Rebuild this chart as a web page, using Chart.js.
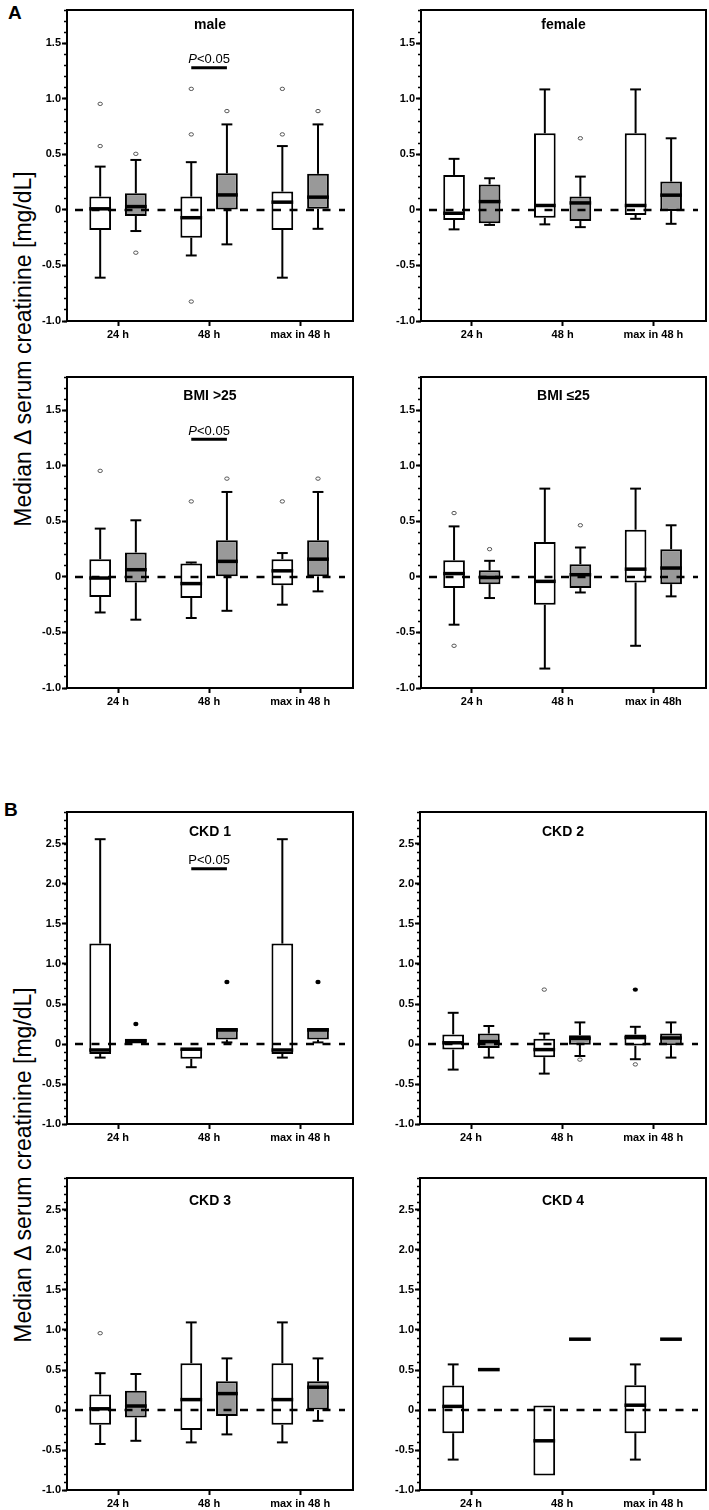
<!DOCTYPE html>
<html>
<head>
<meta charset="utf-8">
<script src="https://cdn.jsdelivr.net/npm/chart.js@4.4.1/dist/chart.umd.min.js"></script>
<style>
  html, body { margin: 0; padding: 0; background: #fff; }
  body { width: 709px; height: 1510px; position: relative; overflow: hidden; font-family: 'Liberation Sans', Arial, sans-serif; }
  canvas { position: absolute; }
  .tag { position: absolute; font-weight: bold; font-size: 19px; line-height: 19px; }
  .ytitle { position: absolute; width: 420px; text-align: center; font-size: 23px; line-height: 23px;
            white-space: nowrap; transform: translate(-50%, -50%) rotate(-90deg); }
</style>
</head>
<body>
<div class="tag" style="left:8px;top:3px">A</div>
<div class="tag" style="left:4px;top:800px">B</div>
<div class="ytitle" style="left:23px;top:349px">Median &Delta; serum creatinine [mg/dL]</div>
<div class="ytitle" style="left:23px;top:1165px">Median &Delta; serum creatinine [mg/dL]</div>
<script>
Chart.defaults.font.family = "'Liberation Sans', Arial, sans-serif";
Chart.defaults.color = '#000';

// x categories
var categories = ['24 h', '48 h', 'max in 48 h'];
var categoriesBmiLow = ['24 h', '48 h', 'max in 48h'];

// y tick ranges
var yMaxA = 1.8;
var yMaxB = 2.9;

// every row: [lower whisker, Q1, median, Q3, upper whisker] for 24 h, 48 h, max in 48 h
var maleWhite = [[-0.61, -0.18, 0.01, 0.12, 0.39], [-0.41, -0.25, -0.07, 0.12, 0.43], [-0.61, -0.18, 0.07, 0.165, 0.575]];
var maleGrey = [[-0.19, -0.055, 0.03, 0.15, 0.45], [-0.31, 0.0, 0.135, 0.33, 0.77], [-0.17, 0.01, 0.115, 0.325, 0.77]];
var maleWhiteOut = [[0.575, 0.955], [1.09, 0.68, -0.825], [1.09, 0.68]];
var maleGreyOut = [[0.505, -0.385], [0.89], [0.89]];

var femaleWhite = [[-0.175, -0.09, -0.03, 0.315, 0.46], [-0.13, -0.07, 0.04, 0.69, 1.085], [-0.08, -0.045, 0.04, 0.69, 1.085]];
var femaleGrey = [[-0.135, -0.12, 0.075, 0.23, 0.285], [-0.155, -0.1, 0.063, 0.12, 0.3], [-0.125, -0.01, 0.133, 0.255, 0.645]];
var femaleWhiteOut = [[], [], []];
var femaleGreyOut = [[], [0.645], []];

var bmiHighWhite = [[-0.32, -0.18, -0.01, 0.16, 0.435], [-0.37, -0.19, -0.06, 0.12, 0.13], [-0.25, -0.075, 0.055, 0.16, 0.215]];
var bmiHighGrey = [[-0.385, -0.05, 0.065, 0.22, 0.51], [-0.305, 0.005, 0.14, 0.33, 0.765], [-0.13, 0.005, 0.16, 0.33, 0.765]];
var bmiHighWhiteOut = [[0.955], [0.68], [0.68]];
var bmiHighGreyOut = [[], [0.885], [0.885]];

var bmiLowWhite = [[-0.43, -0.1, 0.03, 0.15, 0.455], [-0.825, -0.25, -0.04, 0.315, 0.795], [-0.62, -0.05, 0.07, 0.425, 0.795]];
var bmiLowGrey = [[-0.19, -0.065, -0.005, 0.06, 0.145], [-0.14, -0.1, 0.02, 0.115, 0.265], [-0.175, -0.065, 0.08, 0.25, 0.465]];
var bmiLowWhiteOut = [[0.575, -0.62], [], []];
var bmiLowGreyOut = [[0.25], [0.465], []];

var ckd1White = [[-0.17, -0.125, -0.075, 1.255, 2.56], [-0.29, -0.185, -0.065, -0.06, -0.06], [-0.17, -0.125, -0.075, 1.255, 2.56]];
var ckd1Grey = [[0.005, 0.005, 0.04, 0.065, 0.065], [0.02, 0.055, 0.175, 0.2, 0.2], [0.02, 0.055, 0.175, 0.2, 0.2]];
var ckd1WhiteOut = [[], [], []];
var ckd1GreyDots = [[0.25], [0.775], [0.775]];

var ckd2White = [[-0.32, -0.07, 0.015, 0.12, 0.39], [-0.37, -0.165, -0.07, 0.065, 0.13], [-0.19, -0.02, 0.08, 0.12, 0.215]];
var ckd2Grey = [[-0.17, -0.05, 0.03, 0.13, 0.225], [-0.15, -0.01, 0.07, 0.11, 0.27], [-0.17, -0.015, 0.075, 0.13, 0.27]];
var ckd2WhiteOut = [[], [0.68], [-0.255]];
var ckd2WhiteDots = [[], [], [0.68]];
var ckd2GreyOut = [[], [-0.195], []];

var ckd3White = [[-0.425, -0.185, 0.015, 0.195, 0.46], [-0.405, -0.25, 0.13, 0.585, 1.095], [-0.405, -0.185, 0.13, 0.585, 1.095]];
var ckd3Grey = [[-0.385, -0.095, 0.05, 0.24, 0.45], [-0.305, -0.075, 0.205, 0.36, 0.645], [-0.135, 0.0, 0.285, 0.36, 0.645]];
var ckd3WhiteOut = [[0.96], [], []];

var ckd4White = [[-0.62, -0.29, 0.045, 0.305, 0.57], [-0.82, -0.82, -0.385, 0.055, 0.055], [-0.62, -0.29, 0.06, 0.31, 0.57]];
var ckd4Grey = [[0.505, 0.505, 0.505, 0.505, 0.505], [0.885, 0.885, 0.885, 0.885, 0.885], [0.885, 0.885, 0.885, 0.885, 0.885]];

var none = [[], [], []];

// panel frames: [left, top, right, bottom] of the plot box on the page
var panels = [
  { title: 'male', labels: categories, white: maleWhite, grey: maleGrey, wOut: maleWhiteOut, gOut: maleGreyOut,
    wDots: none, gDots: none, yMax: yMaxA, frame: [67, 10, 353, 321], titleOff: 15, pBar: { value: 1.28, italic: true } },
  { title: 'female', labels: categories, white: femaleWhite, grey: femaleGrey, wOut: femaleWhiteOut, gOut: femaleGreyOut,
    wDots: none, gDots: none, yMax: yMaxA, frame: [421, 10, 706, 321], titleOff: 15 },
  { title: 'BMI >25', labels: categories, white: bmiHighWhite, grey: bmiHighGrey, wOut: bmiHighWhiteOut, gOut: bmiHighGreyOut,
    wDots: none, gDots: none, yMax: yMaxA, frame: [67, 377, 353, 688], titleOff: 19, pBar: { value: 1.24, italic: true } },
  { title: 'BMI \u226425', labels: categoriesBmiLow, white: bmiLowWhite, grey: bmiLowGrey, wOut: bmiLowWhiteOut, gOut: bmiLowGreyOut,
    wDots: none, gDots: none, yMax: yMaxA, frame: [421, 377, 706, 688], titleOff: 19 },
  { title: 'CKD 1', labels: categories, white: ckd1White, grey: ckd1Grey, wOut: ckd1WhiteOut, gOut: none,
    wDots: none, gDots: ckd1GreyDots, yMax: yMaxB, frame: [67, 812, 353, 1124], titleOff: 20, pBar: { value: 2.19, italic: false } },
  { title: 'CKD 2', labels: categories, white: ckd2White, grey: ckd2Grey, wOut: ckd2WhiteOut, gOut: ckd2GreyOut,
    wDots: ckd2WhiteDots, gDots: none, yMax: yMaxB, frame: [420, 812, 706, 1124], titleOff: 20 },
  { title: 'CKD 3', labels: categories, white: ckd3White, grey: ckd3Grey, wOut: ckd3WhiteOut, gOut: none,
    wDots: none, gDots: none, yMax: yMaxB, frame: [67, 1178, 353, 1490], titleOff: 23 },
  { title: 'CKD 4', labels: categories, white: ckd4White, grey: ckd4Grey, wOut: none, gOut: none,
    wDots: none, gDots: none, yMax: yMaxB, frame: [420, 1178, 706, 1490], titleOff: 23 }
];

function line(ctx, x1, y1, x2, y2) {
  ctx.beginPath();
  ctx.moveTo(x1, y1);
  ctx.lineTo(x2, y2);
  ctx.stroke();
}

// whiskers, medians, outliers, zero line, frame and labels inside the box
var boxExtras = {
  id: 'boxExtras',
  afterDatasetsDraw: function (chart, args, o) {
    var ctx = chart.ctx, ys = chart.scales.y, a = chart.chartArea;
    ctx.save();
    [0, 1].forEach(function (d) {
      var meta = chart.getDatasetMeta(d);
      meta.data.forEach(function (bar, i) {
        var s = o.stats[d][i];
        var x = bar.x, w = bar.width;
        var pLo = ys.getPixelForValue(s[0]), pQ1 = ys.getPixelForValue(s[1]);
        var pMed = ys.getPixelForValue(s[2]), pQ3 = ys.getPixelForValue(s[3]);
        var pHi = ys.getPixelForValue(s[4]);
        ctx.strokeStyle = '#000';
        ctx.lineWidth = 2;
        if (s[4] > s[3]) {
          line(ctx, x, pQ3, x, pHi);
          line(ctx, x - w / 4, pHi, x + w / 4, pHi);
        }
        if (s[0] < s[1]) {
          line(ctx, x, pQ1, x, pLo);
          line(ctx, x - w / 4, pLo, x + w / 4, pLo);
        }
        ctx.lineWidth = 3.5;
        line(ctx, x - w / 2, pMed, x + w / 2, pMed);

        ctx.lineWidth = 1;
        ctx.strokeStyle = '#555';
        o.out[d][i].forEach(function (v) {
          ctx.beginPath();
          ctx.ellipse(x, ys.getPixelForValue(v), 2.2, 1.7, 0, 0, Math.PI * 2);
          ctx.stroke();
        });
        ctx.fillStyle = '#000';
        o.dots[d][i].forEach(function (v) {
          ctx.beginPath();
          ctx.ellipse(x, ys.getPixelForValue(v), 2.6, 2.2, 0, 0, Math.PI * 2);
          ctx.fill();
        });
      });
    });

    // dashed zero line
    var y0 = ys.getPixelForValue(0);
    ctx.strokeStyle = '#000';
    ctx.lineWidth = 2.5;
    ctx.setLineDash([8, 8.5]);
    line(ctx, a.left + 8, y0, a.right - 8, y0);
    ctx.setLineDash([]);

    // frame
    ctx.lineWidth = 2;
    ctx.strokeRect(a.left, a.top, a.right - a.left, a.bottom - a.top);

    // panel title
    ctx.fillStyle = '#000';
    ctx.font = "bold 14px 'Liberation Sans', Arial, sans-serif";
    ctx.textAlign = 'center';
    ctx.textBaseline = 'middle';
    ctx.fillText(o.title, (a.left + a.right) / 2, a.top + o.titleOff);

    // significance bar
    if (o.pBar) {
      var b0 = chart.getDatasetMeta(0).data[1], b1 = chart.getDatasetMeta(1).data[1];
      var py = ys.getPixelForValue(o.pBar.value);
      ctx.lineWidth = 3;
      line(ctx, b0.x, py, b1.x, py);
      var fP = (o.pBar.italic ? 'italic ' : '') + "13px 'Liberation Sans', Arial, sans-serif";
      var fR = "13px 'Liberation Sans', Arial, sans-serif";
      ctx.font = fP;
      var wP = ctx.measureText('P').width;
      ctx.font = fR;
      var wR = ctx.measureText('<0.05').width;
      var sx = (b0.x + b1.x) / 2 - (wP + wR) / 2;
      ctx.textAlign = 'left';
      ctx.font = fP;
      ctx.fillText('P', sx, py - 8);
      ctx.font = fR;
      ctx.fillText('<0.05', sx + wP, py - 8);
    }
    ctx.restore();
  }
};

panels.forEach(function (p) {
  var f = p.frame;
  var padL = 5, axisW = 50, padT = 10, padR = 10, axisH = 22;
  var cv = document.createElement('canvas');
  cv.width = (f[2] - f[0]) + padL + axisW + padR;
  cv.height = (f[3] - f[1]) + padT + axisH;
  cv.style.left = (f[0] - padL - axisW) + 'px';
  cv.style.top = (f[1] - padT) + 'px';
  document.body.appendChild(cv);

  var toPoints = function (rows) {
    return rows.map(function (s, i) { return { x: i, y: [s[1], s[3]] }; });
  };

  new Chart(cv.getContext('2d'), {
    type: 'bar',
    data: {
      datasets: [
        { label: 'white', data: toPoints(p.white),
          backgroundColor: '#ffffff', borderColor: '#000', borderWidth: 2, borderSkipped: false,
          categoryPercentage: 0.783, barPercentage: 0.61 },
        { label: 'grey', data: toPoints(p.grey),
          backgroundColor: '#999999', borderColor: '#000', borderWidth: 2, borderSkipped: false,
          categoryPercentage: 0.783, barPercentage: 0.61 }
      ]
    },
    options: {
      responsive: false,
      animation: false,
      devicePixelRatio: 1,
      layout: { padding: { left: padL, top: padT, right: padR, bottom: 0 } },
      plugins: {
        legend: { display: false },
        tooltip: { enabled: false },
        boxExtras: {
          stats: [p.white, p.grey],
          out: [p.wOut, p.gOut],
          dots: [p.wDots, p.gDots],
          title: p.title,
          titleOff: p.titleOff,
          pBar: p.pBar
        }
      },
      scales: {
        x: {
          type: 'linear', min: -0.56, max: 2.58, offset: false,
          grid: { display: true, offset: false, drawOnChartArea: false, tickLength: 5, tickWidth: 2, tickColor: '#000' },
          border: { display: false },
          ticks: { stepSize: 1, includeBounds: false, font: { size: 11, weight: 'bold' }, padding: 2,
                   maxRotation: 0, autoSkip: false,
                   callback: function (v) { return p.labels[Math.round(v)]; } },
          afterFit: function (s) { s.height = axisH; }
        },
        y: {
          position: 'left', weight: 1, min: -1, max: p.yMax,
          ticks: { stepSize: 0.5, includeBounds: false, font: { size: 11, weight: 'bold' }, padding: 1,
                   callback: function (v) { return Math.abs(v) < 1e-9 ? '0' : v.toFixed(1); } },
          grid: { drawOnChartArea: false, tickLength: 5, tickWidth: 2, tickColor: '#000' },
          border: { display: false },
          afterFit: function (s) { s.width = axisW; }
        },
        yMinor: {
          type: 'linear', position: 'left', weight: 0, min: -1, max: p.yMax,
          ticks: { stepSize: 0.1, display: false, maxTicksLimit: 100, font: { size: 4 } },
          grid: { drawOnChartArea: false, tickLength: 3, tickWidth: 1.5, tickColor: '#000' },
          border: { display: false },
          afterFit: function (s) { s.width = 0; }
        }
      }
    },
    plugins: [boxExtras]
  });
});
</script>
</body>
</html>
